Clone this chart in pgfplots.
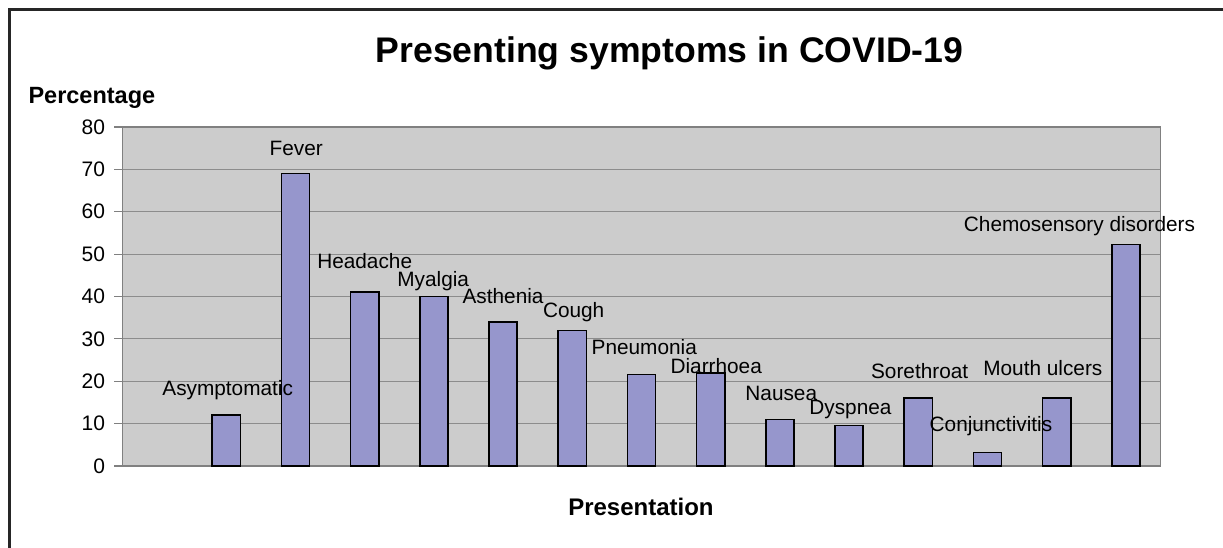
\documentclass[border=0pt]{standalone}
\usepackage{pgfplots}
\pgfplotsset{compat=1.18}
\usepackage{fontspec}
\setmainfont{Liberation Sans}
\definecolor{plotbg}{RGB}{204,204,204}
\definecolor{barfill}{RGB}{150,150,204}
\definecolor{gridc}{RGB}{140,140,140}
\begin{document}
\begin{tikzpicture}[x=1pt,y=1pt]
\useasboundingbox (0,0) rectangle (1223,548);
\draw[line width=2.5pt, black!85] (9.5,0) -- (9.5,538.5) -- (1223,538.5);
\begin{axis}[
  at={(122.5pt,82pt)}, anchor=south west,
  width=1038pt, height=339pt, scale only axis,
  xmin=-0.5, xmax=14.5, ymin=0, ymax=80,
  ytick={0,10,...,80}, xtick=\empty, ytick pos=left,
  ymajorgrids, grid style={gridc, line width=1.2pt},
  axis background/.style={fill=plotbg},
  axis line style={gray, line width=1.5pt},
  tick style={gray, line width=1.2pt},
  tick align=outside, major tick length=8pt,
  yticklabel style={font=\fontsize{21}{23}\selectfont, xshift=-6pt},
  /pgf/number format/assume math mode=true,
  clip=false,
  title={Presenting symptoms in COVID-19},
  title style={at={(axis description cs:0.527,1.189)}, anchor=base, yshift=-6pt, font=\fontsize{35.6}{40}\selectfont\bfseries},
  ylabel={Percentage},
  ylabel style={rotate=-90, at={(axis description cs:-0.0295,1.0708)}, anchor=base, font=\fontsize{23.5}{25}\selectfont\bfseries},
  xlabel={Presentation},
  xlabel style={at={(axis description cs:0.4995,-0.121)}, anchor=center, font=\fontsize{24}{26}\selectfont\bfseries},
]
\addplot[ybar, bar width=0.41, fill=barfill, draw=black, line width=1.6pt]
  table[row sep=\\] {
  x y\\
  1 12\\
  2 69\\
  3 41\\
  4 40\\
  5 34\\
  6 32\\
  7 21.6\\
  8 22\\
  9 11\\
  10 9.6\\
  11 16\\
  12 3.2\\
  13 16\\
  14 52.3\\
  };
\addplot[draw=none, mark=none, nodes near coords, point meta=explicit symbolic,
  nodes near coords style={anchor=center, font=\fontsize{20.8}{22}\selectfont, inner sep=0pt, text=black}]
  table[row sep=\\, col sep=comma, meta=label] {
x,y,label\\
1.02,17.8,Asymptomatic\\
2.01,74.9,Fever\\
3.00,48.4,Headache\\
3.99,43.7,Myalgia\\
5.00,40.1,Asthenia\\
6.02,36.4,Cough\\
7.04,28.0,Pneumonia\\
8.08,23.5,Diarrhoea\\
9.02,17.2,Nausea\\
10.02,13.4,Dyspnea\\
11.02,22.3,Sorethroat\\
12.05,9.3,Conjunctivitis\\
12.80,23.2,Mouth ulcers\\
13.33,56.7,Chemosensory disorders\\
};
\end{axis}
\end{tikzpicture}
\end{document}
